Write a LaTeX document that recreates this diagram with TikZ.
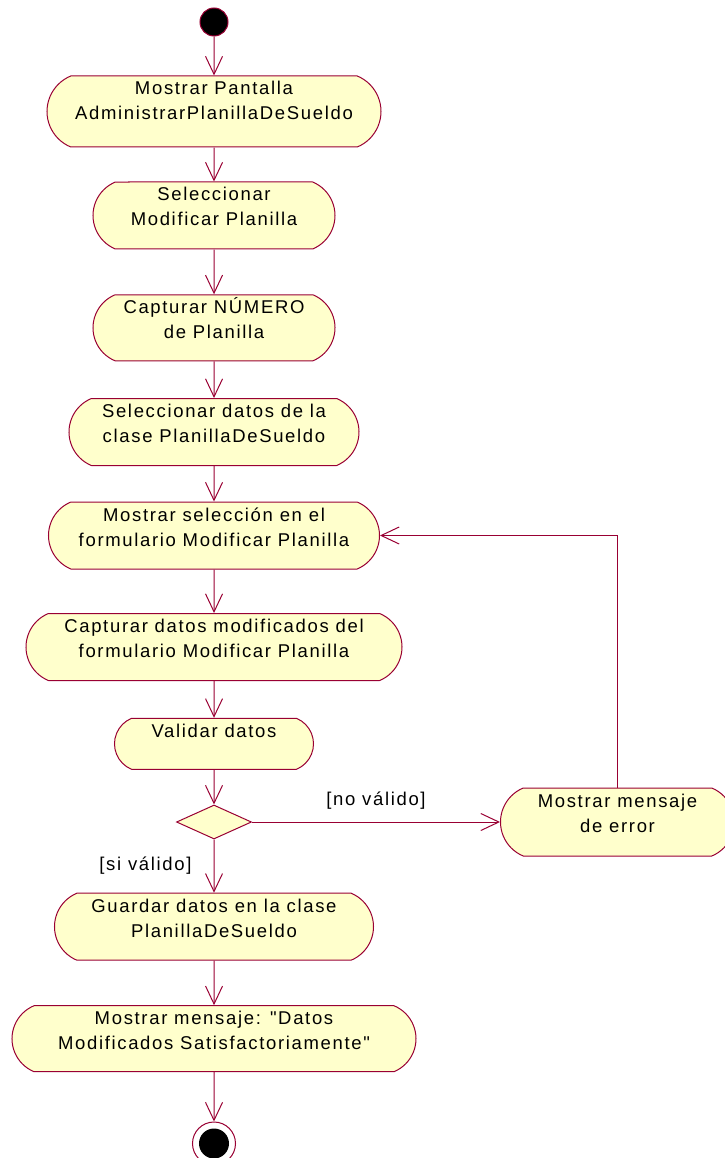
\documentclass[tikz,border=0pt]{standalone}
\usepackage{fontspec}
\usepackage{tikz}
\usetikzlibrary{shapes.misc,shapes.geometric,arrows.meta,positioning}
\newfontfamily\rosefont{Liberation Sans}[LetterSpace=9]
\definecolor{rosered}{RGB}{153,0,51}
\definecolor{rosefill}{RGB}{255,255,204}
\tikzstyle{activity} = [rounded rectangle, rounded rectangle arc length=135, draw=rosered, fill=rosefill, line width=1pt, align=center, inner xsep=0pt, inner ysep=5pt, text height=39pt, text depth=18pt, font=\rosefont\fontsize{18.5}{25}\selectfont]
\tikzstyle{startdot} = [circle, draw=rosered, fill=black, line width=1pt, minimum size=28pt, inner sep=0pt]
\tikzstyle{enddot} = [circle, draw=rosered, fill=white, line width=1pt, minimum size=43pt, inner sep=0pt, path picture={\fill[black] (path picture bounding box.center) circle (15pt);}]
\tikzstyle{decision} = [diamond, draw=rosered, fill=rosefill, line width=1pt, minimum width=75pt, minimum height=34pt, inner sep=0pt]
\tikzstyle{guard} = [font=\rosefont\fontsize{18.5}{25}\selectfont, inner sep=0pt]
\tikzstyle{flow} = [draw=rosered, line width=1pt, -{Straight Barb[length=18pt,width=17pt]}]

\begin{document}
\begin{tikzpicture}
    \useasboundingbox (-214pt,22pt) rectangle (510pt,-1136pt);
    % inicio y actividades
    \node[startdot] (inicio) {};
    \node[activity, below of=inicio, node distance=89.5pt, minimum width=334pt, text depth=22pt] (pantalla) {Mostrar Pantalla\\AdministrarPlanillaDeSueldo};
    \node[activity, below of=pantalla, node distance=104pt, minimum width=242pt] (selec) {Seleccionar\\Modificar Planilla};
    \node[activity, below of=selec, node distance=112.3pt, minimum width=242pt, text depth=17pt] (numero) {Capturar NÚMERO\\de Planilla};
    \node[activity, below of=numero, node distance=104.2pt, minimum width=290pt] (datos) {Seleccionar datos de la\\clase PlanillaDeSueldo};
    \node[activity, below of=datos, node distance=103.5pt, minimum width=331pt] (mostrar) {Mostrar selección en el\\formulario Modificar Planilla};
    \node[activity, below of=mostrar, node distance=111.5pt, minimum width=376pt] (captura) {Capturar datos modificados del\\formulario Modificar Planilla};
    \node[activity, below of=captura, node distance=96.8pt, minimum width=199pt, text height=14pt, text depth=27pt] (validar) {Validar datos};

    % decision
    \node[decision, below of=validar, node distance=78.2pt] (dec) {};
    \node[activity, right of=dec, node distance=403.5pt, minimum width=234pt, text depth=19pt] (error) {Mostrar mensaje\\de error};

    % guardar y fin
    \node[activity, below of=dec, node distance=104.7pt, minimum width=319pt] (guardar) {Guardar datos en la clase\\PlanillaDeSueldo};
    \node[activity, below of=guardar, node distance=112pt, minimum width=404pt, text depth=17pt] (mensaje) {Mostrar mensaje: "Datos\\Modificados Satisfactoriamente"};
    \node[enddot, below of=mensaje, node distance=104.8pt] (fin) {};

    % transiciones
    \draw[flow] (inicio) -- (pantalla);
    \draw[flow] (pantalla) -- (selec);
    \draw[flow] (selec) -- (numero);
    \draw[flow] (numero) -- (datos);
    \draw[flow] (datos) -- (mostrar);
    \draw[flow] (mostrar) -- (captura);
    \draw[flow] (captura) -- (validar);
    \draw[flow] (validar) -- (dec);
    \draw[flow] (dec) -- node[guard, above=12pt] {[no válido]} (error);
    \draw[flow] (dec) -- node[guard, left=22pt] {[si válido]} (guardar);
    \draw[flow] (error) |- (mostrar);
    \draw[flow] (guardar) -- (mensaje);
    \draw[flow] (mensaje) -- (fin);
\end{tikzpicture}
\end{document}
